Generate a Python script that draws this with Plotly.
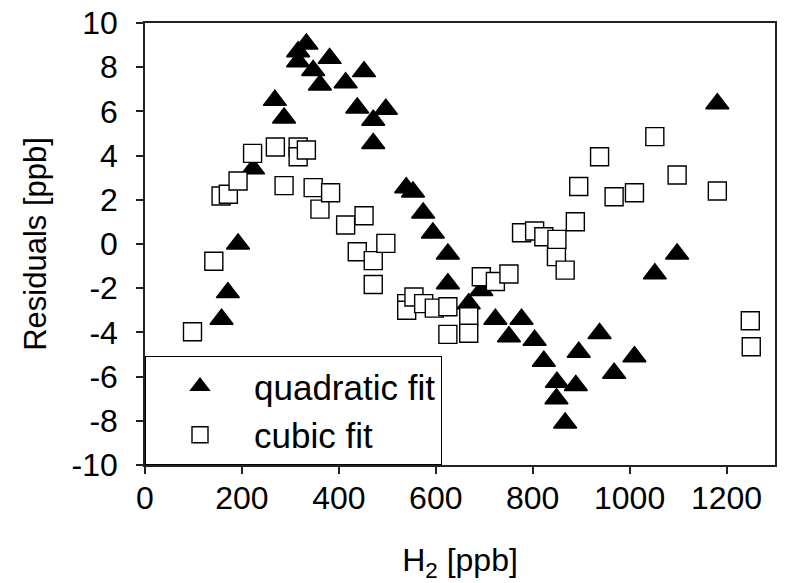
import plotly.graph_objects as go

# quadratic fit residuals (filled triangles)
quad_x = [158, 171, 192, 223, 268, 287, 316, 316, 333, 347, 361, 381, 414, 438, 452,
          471, 471, 497, 539, 553, 574, 594, 625, 625, 668, 694, 723, 751, 777, 804,
          823, 849, 850, 867, 889, 895, 938, 968, 1010, 1052, 1098, 1181]
quad_y = [-3.4, -2.2, 0.0, 3.4, 6.5, 5.7, 8.25, 8.7, 9.05, 7.85, 7.2, 8.4, 7.3, 6.15, 7.8,
          5.6, 4.55, 6.1, 2.55, 2.35, 1.4, 0.5, -0.45, -1.8, -2.7, -2.1, -3.4, -4.2, -3.4, -4.35,
          -5.3, -7.0, -6.25, -8.1, -6.4, -4.9, -4.05, -5.85, -5.1, -1.35, -0.45, 6.35]

# cubic fit residuals (open squares)
cub_x = [98, 142, 157, 172, 192, 222, 269, 287, 316, 316, 333, 347, 361, 383, 414,
         438, 452, 471, 471, 497, 540, 540, 555, 575, 597, 625, 625, 668, 668, 694,
         723, 751, 777, 804, 823, 849, 850, 867, 888, 895, 938, 968, 1010, 1052, 1098,
         1181, 1249, 1251]
cub_y = [-3.97, -0.78, 2.17, 2.25, 2.85, 4.1, 4.39, 2.64, 4.39, 3.95, 4.25, 2.55, 1.58, 2.32, 0.86,
         -0.35, 1.28, -0.75, -1.83, 0.03, -2.7, -3.0, -2.4, -2.7, -2.9, -2.84, -4.09, -3.29, -4.04, -1.48,
         -1.7, -1.36, 0.51, 0.59, 0.33, -0.57, 0.21, -1.18, 1.01, 2.6, 3.95, 2.14, 2.32, 4.86, 3.12,
         2.40, -3.47, -4.65]

x_ticks = [0, 200, 400, 600, 800, 1000, 1200]
y_ticks = [-10, -8, -6, -4, -2, 0, 2, 4, 6, 8, 10]

FONT = "Liberation Sans, Arial, sans-serif"

fig = go.Figure()
fig.add_trace(go.Scatter(
    x=quad_x, y=quad_y, mode="markers", name="quadratic fit",
    marker=dict(symbol="triangle-up", size=20, color="black",
                line=dict(color="black", width=1.5)),
))
fig.add_trace(go.Scatter(
    x=cub_x, y=cub_y, mode="markers", name="cubic fit",
    marker=dict(symbol="square", size=18, color="white",
                line=dict(color="black", width=1.4)),
))

axis_common = dict(
    showgrid=False, zeroline=False, showline=True, linecolor="#222", linewidth=1.5,
    mirror=True, ticks="outside", ticklen=7, tickwidth=1.5, tickcolor="#222",
    tickfont=dict(family=FONT, size=32, color="black"),
)

fig.update_xaxes(
    range=[0, 1300], tickvals=x_ticks, ticktext=[str(v) for v in x_ticks],
    title=dict(text="H<sub>2</sub> [ppb]", font=dict(family=FONT, size=32, color="black"),
               standoff=40),
    ticklabelstandoff=-3,
    **axis_common,
)
fig.update_yaxes(
    range=[-10, 10], tickvals=y_ticks, ticktext=[str(v) for v in y_ticks],
    title=dict(text="Residuals [ppb]", font=dict(family=FONT, size=31, color="black"),
               standoff=16),
    ticklabelstandoff=12,
    **axis_common,
)

fig.update_layout(
    width=787, height=583,
    margin=dict(l=145, r=12, t=23, b=118, autoexpand=False),
    plot_bgcolor="white", paper_bgcolor="white",
    font=dict(family=FONT, color="black"),
    showlegend=True,
    legend=dict(
        x=0, y=0, xanchor="left", yanchor="bottom",
        bgcolor="white", bordercolor="black", borderwidth=1,
        font=dict(family=FONT, size=35, color="black"),
        itemwidth=98, tracegroupgap=0,
    ),
)

fig.write_html("out.html")
